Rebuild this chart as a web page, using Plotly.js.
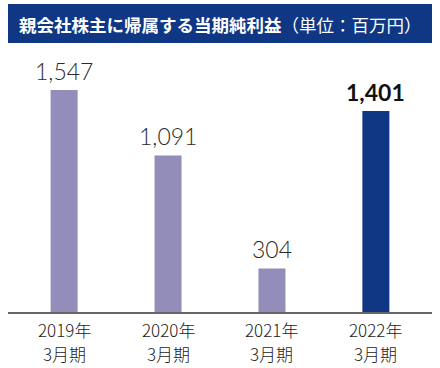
<!DOCTYPE html>
<html><head><meta charset="utf-8">
<script src="https://cdn.plot.ly/plotly-3.0.1.min.js"></script>
<style>html,body{margin:0;padding:0;background:#fff}#c{width:440px;height:368px}</style>
</head><body><div id="c"></div>
<script>
const yearLabels = ["2019年", "2020年", "2021年", "2022年"];
const periodLabels = ["3月期", "3月期", "3月期", "3月期"];
const values = [1547, 1091, 304, 1401];
const valueLabels = ["1,547", "1,091", "304", "1,401"];
const barColors = ["#938dba", "#938dba", "#938dba", "#0f3784"];
const highlight = [false, false, false, true];
const titleText = "<b>親会社株主に帰属する当期純利益</b>（単位：百万円）";

const xIdx = values.map((_, i) => i);
const tickFont = {family: '"Noto Sans CJK JP", sans-serif', size: 17, color: '#222', weight: 300};
const annotations = [];
xIdx.forEach(i => {
  annotations.push({
    x: i, y: values[i], xref: 'x', yref: 'y',
    text: highlight[i] ? '<b>' + valueLabels[i] + '</b>' : valueLabels[i],
    showarrow: false, yanchor: 'bottom', yshift: 3,
    font: {family: 'Lato, "Noto Sans", sans-serif', size: 23, color: highlight[i] ? '#111' : '#2a2a2a', weight: highlight[i] ? 700 : 300}
  });
  annotations.push({x: i, y: -0.0687, xref: 'x', yref: 'paper', text: yearLabels[i], showarrow: false,
    yanchor: 'middle', font: tickFont});
  annotations.push({x: i, y: -0.1565, xref: 'x', yref: 'paper', text: periodLabels[i], showarrow: false,
    yanchor: 'middle', font: tickFont});
});
annotations.push({
  x: 0.5, y: 1.099, xref: 'paper', yref: 'paper', text: titleText, showarrow: false,
  xanchor: 'center', yanchor: 'middle',
  font: {family: '"Noto Sans CJK JP", sans-serif', size: 17.5, color: '#ffffff'}
});

const data = [{
  type: 'bar', x: xIdx, y: values, width: 0.26,
  marker: {color: barColors}, hoverinfo: 'none'
}];
const layout = {
  width: 440, height: 368,
  margin: {l: 8, r: 8, t: 50, b: 56},
  paper_bgcolor: '#fff', plot_bgcolor: '#fff',
  showlegend: false,
  xaxis: {range: [-0.54, 3.54], tickvals: xIdx, showticklabels: false, showgrid: false, zeroline: false,
    showline: true, linecolor: '#666', linewidth: 2, ticks: '', fixedrange: true},
  yaxis: {range: [0, 1826], visible: false, showgrid: false, zeroline: false, fixedrange: true},
  shapes: [{type: 'rect', xref: 'paper', yref: 'paper', x0: 0, x1: 1, y0: 1.0267, y1: 1.1756,
    fillcolor: '#0f3784', line: {width: 0}, layer: 'below'}],
  annotations: annotations
};
Plotly.newPlot('c', data, layout, {staticPlot: true, displayModeBar: false});
</script></body></html>
